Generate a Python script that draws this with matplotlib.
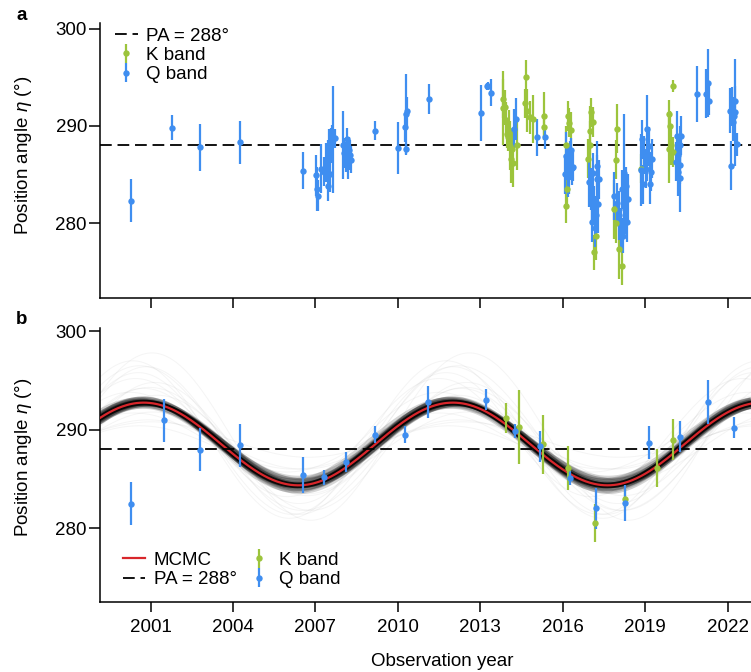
import numpy as np
import matplotlib as mpl
mpl.use('Agg')
import matplotlib.pyplot as plt

plt.rcParams['font.family'] = ['Liberation Sans', 'DejaVu Sans']
plt.rcParams['mathtext.fontset'] = 'custom'
plt.rcParams['mathtext.rm'] = 'Liberation Sans'
plt.rcParams['mathtext.it'] = 'Liberation Sans:italic'

BLUE = '#3f8ef0'
GREEN = '#9cc43c'
RED = '#d8262b'
FS = 13.5

# ---- panel a: all epochs ----
q_year = [2000.29, 2001.78, 2002.80, 2004.25, 2006.53,
          2007.01, 2007.05, 2007.10, 2007.20, 2007.30, 2007.38, 2007.45, 2007.45, 2007.50,
          2007.56, 2007.60, 2007.64, 2007.70, 2007.52,
          2008.01, 2008.03, 2008.10, 2008.15, 2008.20, 2008.22, 2008.26, 2008.28,
          2009.16, 2010.00, 2010.25, 2010.28, 2010.30, 2010.33, 2011.12,
          2013.02, 2013.23, 2013.28, 2013.39, 2014.22, 2014.30, 2015.05, 2015.35,
          2016.13, 2016.18, 2016.22, 2016.27, 2016.33, 2016.08, 2016.38, 2016.20, 2016.30,
          2016.96, 2017.02, 2017.08, 2017.14, 2017.20, 2017.26, 2017.32, 2017.05, 2017.17,
          2017.11, 2017.23, 2017.28,
          2017.88, 2017.99, 2018.05, 2018.11, 2018.17, 2018.23, 2018.29, 2018.36, 2018.26,
          2018.20, 2018.32, 2018.85,
          2018.90, 2018.96, 2019.02, 2019.08, 2019.14, 2019.20, 2019.26, 2019.05, 2018.93, 2019.17,
          2020.15, 2020.21, 2020.27, 2020.19, 2020.25, 2020.32, 2020.13, 2020.27,
          2020.90, 2021.20, 2021.29, 2021.33,
          2022.08, 2022.15, 2022.22, 2022.27, 2022.20, 2022.11, 2022.33, 2022.25]
q_pa = [282.3, 289.8, 287.8, 288.3, 285.4,
        284.9, 283.5, 282.8, 285.6, 285.3, 286.2, 286.5, 283.8, 287.2,
        288.0, 288.6, 288.6, 288.7, 285.0,
        288.0, 287.2, 286.8, 288.6, 286.0, 287.5, 287.0, 286.5,
        289.5, 287.7, 289.85, 287.6, 291.2, 291.5, 292.75,
        291.3, 294.05, 294.1, 293.4, 289.7, 290.7, 288.8, 288.8,
        286.9, 285.9, 285.2, 286.4, 285.7, 285.0, 285.8, 284.7, 287.5,
        284.2, 283.5, 282.5, 281.8, 280.8, 284.5, 284.5, 280.1, 279.5,
        285.2, 285.9, 282.0,
        282.8, 282.1, 280.8, 279.4, 283.5, 285.2, 283.8, 282.5, 281.4,
        278.7, 280.1, 285.5,
        288.6, 287.0, 285.6, 286.3, 287.9, 285.3, 286.6, 289.7, 284.0, 284.0,
        289.0, 287.0, 286.0, 285.3, 288.0, 289.0, 286.3, 284.6,
        293.3, 293.3, 294.4, 292.6,
        291.55, 292.0, 291.0, 292.6, 290.4, 285.9, 288.1, 291.4]
q_err = [2.2, 1.3, 2.4, 2.2, 1.9,
         2.1, 2.3, 1.6, 2.5, 1.5, 2.0, 2.0, 1.5, 2.5,
         1.8, 1.5, 5.5, 1.0, 1.8,
         3.5, 1.5, 1.5, 1.2, 1.5, 1.3, 1.5, 1.4,
         0.95, 2.7, 1.5, 0.6, 4.1, 1.5, 1.5,
         2.9, 0.4, 0.4, 1.4, 2.0, 2.2, 1.9, 1.2,
         2.5, 2.0, 2.2, 2.0, 1.8, 2.0, 1.5, 2.0, 1.2,
         2.5, 2.2, 2.5, 2.0, 2.0, 2.5, 2.0, 2.0, 2.0,
         2.0, 2.5, 3.0,
         2.5, 2.0, 2.5, 2.2, 2.0, 6.0, 2.0, 2.5, 2.5,
         1.8, 2.0, 3.7,
         2.0, 2.0, 2.0, 2.0, 2.0, 2.0, 2.0, 3.5, 2.0, 2.0,
         2.5, 2.0, 2.0, 2.5, 2.0, 2.0, 2.0, 3.5,
         2.9, 2.5, 3.5, 1.5,
         2.3, 2.0, 2.0, 1.5, 2.0, 2.5, 1.2, 5.5]

k_year = [2013.82, 2013.84, 2013.88, 2013.92, 2013.96, 2014.00, 2014.03, 2014.08, 2014.12,
          2014.17, 2014.33, 2014.20, 2014.61, 2014.65, 2014.69, 2014.80, 2014.90, 2015.32, 2015.32,
          2016.19, 2016.24, 2016.30, 2016.13, 2016.15, 2016.10,
          2017.04, 2017.10, 2016.98, 2016.92, 2017.20, 2017.14, 2017.00,
          2017.99, 2017.93, 2017.88, 2017.93, 2018.05, 2018.17, 2018.85,
          2020.00, 2019.88, 2019.91, 2019.95, 2019.88, 2020.00]
k_pa = [291.8, 292.8, 291.9, 290.6, 289.2, 288.9, 289.6, 287.95, 286.6,
        287.6, 288.0, 286.2, 292.3, 295.0, 291.55, 290.9, 290.7, 291.0, 289.9,
        291.0, 290.3, 289.6, 281.8, 283.5, 288.0,
        291.4, 290.4, 289.5, 286.6, 278.7, 277.0, 288.0,
        289.7, 286.5, 281.4, 280.0, 277.3, 275.6, 285.6,
        294.1, 291.2, 290.0, 288.0, 287.6, 287.3]
k_err = [3.8, 2.0, 1.8, 1.8, 1.5, 1.5, 2.0, 2.5, 2.5,
         2.0, 2.5, 2.5, 1.5, 1.8, 2.2, 1.7, 2.5, 2.5, 1.0,
         1.5, 1.5, 1.8, 1.8, 2.0, 2.0,
         1.5, 1.5, 2.5, 2.0, 2.5, 1.8, 2.5,
         2.5, 2.0, 3.0, 2.0, 3.0, 2.0, 1.5,
         0.6, 1.5, 1.5, 2.0, 3.5, 1.5]

# ---- panel b: binned epochs ----
qb_year = [2000.29, 2001.49, 2002.80, 2004.25, 2006.53, 2007.32, 2008.12, 2009.16, 2010.24, 2011.10,
           2013.20, 2014.26, 2015.17, 2016.28, 2017.20, 2018.25, 2019.15, 2020.28, 2021.27, 2022.23]
qb_pa = [282.5, 290.94, 287.97, 288.4, 285.4, 285.15, 286.7, 289.5, 289.5, 292.8,
         293.05, 289.9, 288.3, 285.1, 282.0, 282.55, 288.7, 289.3, 292.8, 290.2]
qb_err = [2.15, 2.2, 2.2, 2.15, 1.85, 0.75, 1.0, 0.85, 0.9, 1.6,
          1.05, 0.7, 1.55, 0.75, 2.1, 1.85, 1.65, 1.6, 2.2, 1.05]
kb_year = [2013.92, 2014.40, 2015.29, 2016.20, 2017.16, 2018.25, 2019.43, 2020.00]
kb_pa = [291.2, 290.3, 288.5, 286.1, 280.5, 283.0, 286.1, 289.0]
kb_err = [1.5, 3.75, 2.95, 2.2, 1.95, 1.0, 1.95, 2.1]

# precession model (best fit) and posterior samples
PA_REF = 288.0
fit_mean, fit_amp, fit_period, fit_peak = 288.55, 4.2, 11.25, 2000.75
core_dA = [-0.35, -0.2, -0.1, 0.0, 0.1, 0.2, 0.35, -0.25, 0.25, -0.15, 0.15, 0.0, -0.4, 0.4, -0.05, 0.05,
           -0.3, 0.3, 0.0, -0.1]
core_dt = [0.1, -0.05, 0.03, -0.12, 0.12, -0.03, 0.06, -0.1, 0.0, 0.15, -0.15, 0.05, 0.0, -0.03, 0.18, -0.18,
           0.08, -0.08, 0.2, -0.2]
core_dm = [0.15, -0.2, 0.3, 0.05, -0.15, 0.2, -0.3, 0.0, 0.1, -0.05, 0.05, -0.35, 0.35, 0.0, -0.1, 0.1,
           0.25, -0.25, 0.0, 0.4]
core_dP = [0.04, -0.04, 0.0, 0.06, -0.06, 0.02, -0.02, 0.08, -0.08, 0.0, 0.04, -0.04, 0.02, -0.02, 0.0, 0.04,
           0.0, 0.02, -0.03, 0.03]
wide_A = [5.5, 6.0, 6.5, 7.0, 7.5, 8.0, 8.5, 5.0, 4.8, 3.5, 3.0, 2.5, 6.2, 7.2, 1.8, 2.2]
wide_m = [288.8, 289.2, 288.3, 289.5, 288.9, 289.0, 289.3, 288.5, 289.0, 288.3, 288.7, 288.5, 288.0, 288.6, 289.0, 288.2]
wide_dt = [0.2, -0.3, 0.4, -0.15, 0.1, -0.4, 0.3, 0.5, -0.5, 0.35, -0.35, 0.15, 0.0, -0.2, 0.3, -0.15]
wide_dP = [0.25, -0.2, 0.1, 0.35, -0.1, 0.15, 0.3, -0.3, 0.0, 0.2, -0.15, 0.05, 0.3, -0.05, 0.1, 0.0]

XLIM = (1999.14, 2022.85)
t = np.linspace(XLIM[0], XLIM[1], 600)


def model(mean, amp, period, peak):
    return mean + amp * np.cos(2 * np.pi * (t - peak) / period)


def style(ax, ylim):
    ax.set_xlim(*XLIM)
    ax.set_ylim(*ylim)
    ax.spines['top'].set_visible(False)
    ax.spines['right'].set_visible(False)
    for s in ('left', 'bottom'):
        ax.spines[s].set_linewidth(1.1)
    ax.set_xticks([2001, 2004, 2007, 2010, 2013, 2016, 2019, 2022])
    ax.set_yticks([280, 290, 300])
    ax.tick_params(axis='y', length=8, width=1.1, pad=1, labelsize=FS)
    ax.tick_params(axis='x', length=7.5, width=1.1, pad=5, labelsize=FS)
    ax.set_ylabel('Position angle $\\it{\\eta}$ (°)', fontsize=FS)


def points(ax, yr, pa, er, color, label):
    return ax.errorbar(yr, pa, yerr=er, fmt='o', ms=4.6, mew=0, color=color,
                       ecolor=color, elinewidth=1.6, capsize=0, label=label, zorder=5)


fig = plt.figure(figsize=(7.51, 6.72), dpi=100)
W, H = 751, 672
ax1 = fig.add_axes([99.5 / W, 1 - 298 / H, 651.5 / W, 275.3 / H])
ax2 = fig.add_axes([99.5 / W, 1 - 602 / H, 651.5 / W, 273.7 / H])

# panel a
pa_line = ax1.axhline(PA_REF, color='black', lw=1.3, ls=(0, (6.5, 3.2)), label='PA = 288°', zorder=1)
hk = points(ax1, k_year, k_pa, k_err, GREEN, 'K band')
hq = points(ax1, q_year, q_pa, q_err, BLUE, 'Q band')
style(ax1, (272.3, 300.6))
ax1.set_xticklabels([])
ax1.legend(handles=[pa_line, hk, hq], loc='upper left', bbox_to_anchor=(0.024, 0.983),
           frameon=False, fontsize=FS, borderpad=0, borderaxespad=0, labelspacing=0.12,
           handlelength=1.2, handletextpad=0.45)
ax1.yaxis.set_label_coords(-0.1, 0.52)

# panel b
for amp, dt, P_off, m in zip(wide_A, wide_dt, wide_dP, wide_m):
    ax2.plot(t, model(m, amp, fit_period + P_off, fit_peak + dt), color='0.6', lw=0.7, alpha=0.1, zorder=1)
for dA, dt, dm, dP in zip(core_dA, core_dt, core_dm, core_dP):
    ax2.plot(t, model(fit_mean + dm, fit_amp + dA, fit_period + dP, fit_peak + dt),
             color='black', lw=3.2, alpha=0.16, zorder=2, solid_capstyle='butt')
ax2.plot(t, model(fit_mean, fit_amp, fit_period, fit_peak), color='black', lw=4.2, alpha=0.8, zorder=2)
mc_line, = ax2.plot(t, model(fit_mean, fit_amp, fit_period, fit_peak), color=RED, lw=1.6,
                    label='MCMC', zorder=3)
pa_line2 = ax2.axhline(PA_REF, color='black', lw=1.3, ls=(0, (6.5, 3.2)), label='PA = 288°', zorder=4)
hk2 = points(ax2, kb_year, kb_pa, kb_err, GREEN, 'K band')
hq2 = points(ax2, qb_year, qb_pa, qb_err, BLUE, 'Q band')
style(ax2, (272.5, 300.3))
ax2.legend(handles=[mc_line, pa_line2, hk2, hq2], loc='upper left', bbox_to_anchor=(0.036, 0.183),
           ncol=2, frameon=False, fontsize=FS, borderpad=0, borderaxespad=0, labelspacing=0.12,
           handlelength=1.2, handletextpad=0.45, columnspacing=0.6)
ax2.yaxis.set_label_coords(-0.1, 0.53)

fig.text(442 / W, 1 - 661 / H, 'Observation year', ha='center', va='center', fontsize=FS)
fig.text(22 / W, 1 - 15 / H, 'a', ha='center', va='center', fontsize=FS, fontweight='bold')
fig.text(22 / W, 1 - 319 / H, 'b', ha='center', va='center', fontsize=FS, fontweight='bold')

fig.savefig('out.png', dpi=100)
